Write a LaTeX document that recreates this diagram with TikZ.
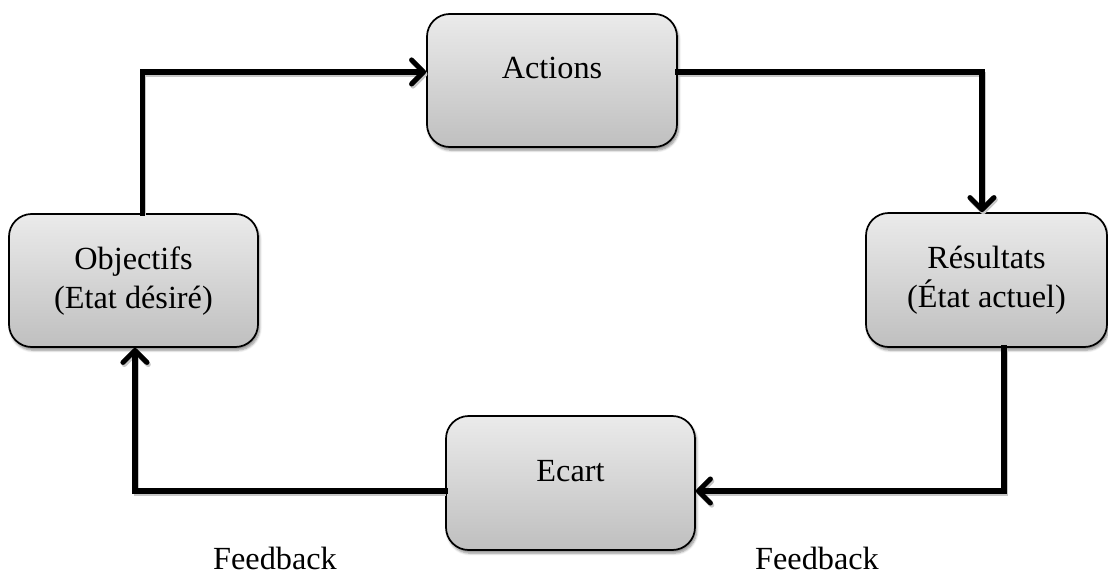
\documentclass[tikz,border=0pt]{standalone}
\usepackage{fontspec}
\setmainfont{Liberation Serif}
\usetikzlibrary{arrows.meta,shadows.blur}
\tikzset{
  box/.style={draw=black, line width=1.3pt, rounded corners=17pt,
    top color=black!8, bottom color=black!25,
    blur shadow={shadow xshift=1.2pt, shadow yshift=-2.4pt, shadow blur steps=6, shadow opacity=45},
    inner sep=0pt},
  txt/.style={inner sep=0pt, align=center, font=\fontsize{24.2pt}{29pt}\selectfont},
  conn/.style={line width=3.8pt, line join=miter, line cap=rect,
    -{Straight Barb[length=9pt, width=18pt, line cap=round, line join=round]},
    preaction={draw=black!22, line width=3.8pt, transform canvas={xshift=1pt, yshift=-1.6pt}}}
}
\begin{document}
\begin{tikzpicture}[x=0.75pt, y=-0.75pt]
\useasboundingbox (0,0) rectangle (1108,575);
% boxes
\node[box, minimum width=187.5pt, minimum height=99.75pt] (act) at (552,80.5) {};
\node[txt] (actt) at (552,68) {Actions};
\node[box, minimum width=186.75pt, minimum height=99.75pt] (obj) at (133.5,280.5) {};
\node[txt] (objt) at (133.5,281) {Objectifs\\(Etat désiré)};
\node[box, minimum width=180.75pt, minimum height=100.5pt] (res) at (986.5,280) {};
\node[txt] (rest) at (986.5,280) {Résultats\\(État actuel)};
\node[box, minimum width=186.75pt, minimum height=100.5pt] (eca) at (570.5,483) {};
\node[txt] (ecat) at (570.5,471) {Ecart};
% labels
\node[txt, anchor=base] (fb1) at (275,569) {Feedback};
\node[txt, anchor=base] (fb2) at (817,569) {Feedback};
% connectors
\draw[conn] ([xshift=6.4pt]obj.north) |- ([yshift=6.4pt]act.west);
\draw[conn] ([yshift=6.4pt]act.east) -| ([xshift=-3.4pt]res.north);
\draw[conn] ([xshift=13.1pt]res.south) |- ([yshift=-6pt]eca.east);
\draw[conn] ([yshift=-6pt]eca.west) -| ([xshift=1.1pt]obj.south);
\end{tikzpicture}
\end{document}
